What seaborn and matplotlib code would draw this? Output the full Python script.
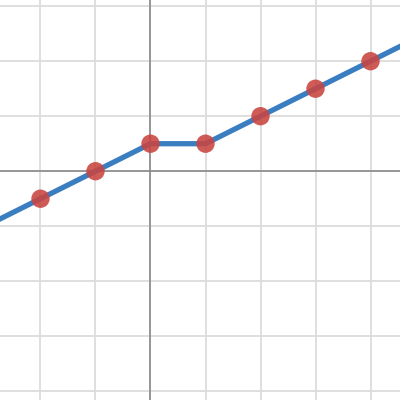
"""Piecewise linear graph with sample points, Desmos style."""

import matplotlib

matplotlib.use("Agg")
import matplotlib.pyplot as plt
import pandas as pd
import seaborn as sns

# sample points
point_x = [-2, -1, 0, 1, 2, 3, 4]
point_y = [-0.5, 0, 0.5, 0.5, 1, 1.5, 2]

# the curve: y = x/2 + 1/2 for x <= 0, flat to x = 1, then y = x/2
curve_x = [-3, 0, 1, 5]
curve_y = [-1, 0.5, 0.5, 2.5]

grid_ticks = [-4, -3, -2, -1, 0, 1, 2, 3, 4, 5]

sns.set_theme(style="white")

points = pd.DataFrame({"x": point_x, "y": point_y})
curve = pd.DataFrame({"x": curve_x, "y": curve_y})

fig = plt.figure(figsize=(4, 4), dpi=100)
ax = fig.add_axes([0, 0, 1, 1])

ax.axhline(0, color="#8a8a8a", linewidth=1.2, zorder=1)
ax.axvline(0, color="#8a8a8a", linewidth=1.2, zorder=1)

sns.lineplot(data=curve, x="x", y="y", ax=ax, color="#3a7dc0",
             linewidth=3.8, solid_capstyle="round", zorder=2, sort=False)
sns.scatterplot(data=points, x="x", y="y", ax=ax, color="#c94440",
                s=175, alpha=0.88, edgecolor="none", zorder=3)

# grid first, then the view window (set_ticks would widen the limits)
ax.set_xticks(grid_ticks)
ax.set_yticks(grid_ticks)
ax.set_xlim(-2.736, 4.536)
ax.set_ylim(-4.16, 3.113)
ax.grid(True, color="#dcdcdc", linewidth=1.3, zorder=0)
ax.set_axisbelow(True)
ax.tick_params(length=0, labelbottom=False, labelleft=False)
for spine in ax.spines.values():
    spine.set_visible(False)

ax.set_xlabel("")
ax.set_ylabel("")

fig.savefig("out.png", dpi=100)
plt.close(fig)
